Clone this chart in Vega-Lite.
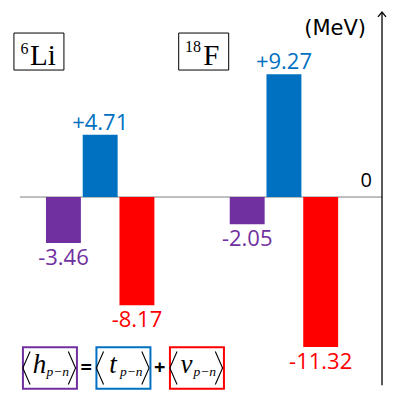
{
  "$schema": "https://vega.github.io/schema/vega-lite/v6.json",
  "width": 362,
  "height": 395,
  "autosize": {"type": "none"},
  "padding": {"left": 20, "right": 13, "top": 0, "bottom": 0},
  "background": "white",
  "config": {"view": {"stroke": null}},
  "datasets": {
    "bars": [
      {"bar": "Li h", "nucleus": "6Li", "term": "h", "value": -3.46, "label": "-3.46"},
      {"bar": "Li t", "nucleus": "6Li", "term": "t", "value": 4.71, "label": "+4.71"},
      {"bar": "Li v", "nucleus": "6Li", "term": "v", "value": -8.17, "label": "-8.17"},
      {"bar": "F h", "nucleus": "18F", "term": "h", "value": -2.05, "label": "-2.05"},
      {"bar": "F t", "nucleus": "18F", "term": "t", "value": 9.27, "label": "+9.27"},
      {"bar": "F v", "nucleus": "18F", "term": "v", "value": -11.32, "label": "-11.32"}
    ],
    "legend": [
      {"slot": "Li h", "term": "h", "letter": "h"},
      {"slot": "Li v", "term": "t", "letter": "t"},
      {"slot": "g2", "term": "v", "letter": "v"}
    ],
    "ops": [{"slot": "Li t", "op": "="}, {"slot": "g1", "op": "+"}],
    "li": [{"mass": "6", "symbol": "Li"}],
    "f": [{"mass": "18", "symbol": "F"}],
    "axis": [{"unit": "(MeV)", "zero": "0"}]
  },
  "layer": [
    {
      "data": {"name": "axis"},
      "mark": {"type": "rule", "color": "#7f7f7f", "strokeWidth": 1},
      "encoding": {
        "y": {"datum": 0, "type": "quantitative", "scale": {"domain": [-14.94, 14.87], "nice": false, "zero": false}, "axis": null}
      }
    },
    {
      "data": {"name": "bars"},
      "mark": {"type": "bar"},
      "encoding": {
        "x": {"field": "bar", "type": "ordinal", "axis": null, "scale": {"domain": ["Li h", "Li t", "Li v", "g1", "g2", "F h", "F t", "F v"], "paddingInner": 0.05, "paddingOuter": 0.95, "align": 0.372}},
        "y": {"field": "value", "type": "quantitative", "scale": {"domain": [-14.94, 14.87], "nice": false, "zero": false}, "axis": null},
        "y2": {"datum": 0},
        "color": {"field": "term", "type": "nominal", "scale": {"domain": ["h", "t", "v"], "range": ["#7030A0", "#0070C0", "#FF0000"]}, "legend": null}
      }
    },
    {
      "data": {"name": "bars"},
      "transform": [{"filter": "datum.value > 0"}],
      "mark": {"type": "text", "font": "Open Sans", "fontSize": 22, "align": "center", "baseline": "alphabetic", "dy": -5},
      "encoding": {
        "x": {"field": "bar", "type": "ordinal", "axis": null, "scale": {"domain": ["Li h", "Li t", "Li v", "g1", "g2", "F h", "F t", "F v"], "paddingInner": 0.05, "paddingOuter": 0.95, "align": 0.372}},
        "y": {"field": "value", "type": "quantitative", "scale": {"domain": [-14.94, 14.87], "nice": false, "zero": false}, "axis": null},
        "text": {"field": "label"},
        "color": {"field": "term", "type": "nominal", "scale": {"domain": ["h", "t", "v"], "range": ["#7030A0", "#0070C0", "#FF0000"]}, "legend": null}
      }
    },
    {
      "data": {"name": "bars"},
      "transform": [{"filter": "datum.value < 0"}],
      "mark": {"type": "text", "font": "Open Sans", "fontSize": 22, "align": "center", "baseline": "alphabetic", "dy": 22},
      "encoding": {
        "x": {"field": "bar", "type": "ordinal", "axis": null, "scale": {"domain": ["Li h", "Li t", "Li v", "g1", "g2", "F h", "F t", "F v"], "paddingInner": 0.05, "paddingOuter": 0.95, "align": 0.372}},
        "y": {"field": "value", "type": "quantitative", "scale": {"domain": [-14.94, 14.87], "nice": false, "zero": false}, "axis": null},
        "text": {"field": "label"},
        "color": {"field": "term", "type": "nominal", "scale": {"domain": ["h", "t", "v"], "range": ["#7030A0", "#0070C0", "#FF0000"]}, "legend": null}
      }
    },
    {
      "data": {"name": "axis"},
      "mark": {"type": "rule", "color": "black", "strokeWidth": 1.3},
      "encoding": {
        "x": {"value": {"expr": "width"}},
        "y": {"datum": 13.96, "type": "quantitative", "scale": {"domain": [-14.94, 14.87], "nice": false, "zero": false}, "axis": null},
        "y2": {"datum": -14.2}
      }
    },
    {
      "data": {"name": "axis"},
      "mark": {"type": "point", "shape": "M-1,1.2L0,0L1,1.2", "filled": false, "stroke": "black", "strokeWidth": 1.3, "size": 64, "opacity": 1},
      "encoding": {
        "x": {"value": {"expr": "width"}},
        "y": {"datum": 13.96, "type": "quantitative", "scale": {"domain": [-14.94, 14.87], "nice": false, "zero": false}, "axis": null}
      }
    },
    {
      "data": {"name": "axis"},
      "mark": {"type": "text", "font": "DejaVu Sans", "fontSize": 21, "align": "right", "baseline": "alphabetic", "dx": -16, "color": "black"},
      "encoding": {
        "x": {"value": {"expr": "width"}},
        "y": {"datum": 12.23, "type": "quantitative", "scale": {"domain": [-14.94, 14.87], "nice": false, "zero": false}, "axis": null},
        "text": {"field": "unit"}
      }
    },
    {
      "data": {"name": "axis"},
      "mark": {"type": "text", "font": "Open Sans", "fontSize": 20, "align": "right", "baseline": "alphabetic", "dx": -10, "dy": -10.3, "color": "black"},
      "encoding": {
        "x": {"value": {"expr": "width"}},
        "y": {"datum": 0, "type": "quantitative", "scale": {"domain": [-14.94, 14.87], "nice": false, "zero": false}, "axis": null},
        "text": {"field": "zero"}
      }
    },
    {
      "data": {"name": "li"},
      "mark": {"type": "point", "shape": "M-1,-0.74H1V0.74H-1Z", "size": 2500, "filled": false, "stroke": "black", "strokeWidth": 1, "opacity": 1, "xOffset": -24.5},
      "encoding": {
        "x": {"datum": "Li h", "type": "ordinal", "axis": null, "scale": {"domain": ["Li h", "Li t", "Li v", "g1", "g2", "F h", "F t", "F v"], "paddingInner": 0.05, "paddingOuter": 0.95, "align": 0.372}},
        "y": {"datum": 10.98, "type": "quantitative", "scale": {"domain": [-14.94, 14.87], "nice": false, "zero": false}, "axis": null}
      }
    },
    {
      "data": {"name": "li"},
      "mark": {"type": "text", "font": "Liberation Serif", "fontSize": 16, "align": "center", "baseline": "alphabetic", "dx": -39, "dy": 2.5, "color": "black"},
      "encoding": {
        "x": {"datum": "Li h", "type": "ordinal", "axis": null, "scale": {"domain": ["Li h", "Li t", "Li v", "g1", "g2", "F h", "F t", "F v"], "paddingInner": 0.05, "paddingOuter": 0.95, "align": 0.372}},
        "y": {"datum": 10.98, "type": "quantitative", "scale": {"domain": [-14.94, 14.87], "nice": false, "zero": false}, "axis": null},
        "text": {"field": "mass"}
      }
    },
    {
      "data": {"name": "li"},
      "mark": {"type": "text", "font": "Liberation Serif", "fontSize": 29, "align": "left", "baseline": "alphabetic", "dx": -33.5, "dy": 13.2, "color": "black"},
      "encoding": {
        "x": {"datum": "Li h", "type": "ordinal", "axis": null, "scale": {"domain": ["Li h", "Li t", "Li v", "g1", "g2", "F h", "F t", "F v"], "paddingInner": 0.05, "paddingOuter": 0.95, "align": 0.372}},
        "y": {"datum": 10.98, "type": "quantitative", "scale": {"domain": [-14.94, 14.87], "nice": false, "zero": false}, "axis": null},
        "text": {"field": "symbol"}
      }
    },
    {
      "data": {"name": "f"},
      "mark": {"type": "point", "shape": "M-1,-0.74H1V0.74H-1Z", "size": 2500, "filled": false, "stroke": "black", "strokeWidth": 1, "opacity": 1, "xOffset": -43.5},
      "encoding": {
        "x": {"datum": "F h", "type": "ordinal", "axis": null, "scale": {"domain": ["Li h", "Li t", "Li v", "g1", "g2", "F h", "F t", "F v"], "paddingInner": 0.05, "paddingOuter": 0.95, "align": 0.372}},
        "y": {"datum": 10.98, "type": "quantitative", "scale": {"domain": [-14.94, 14.87], "nice": false, "zero": false}, "axis": null}
      }
    },
    {
      "data": {"name": "f"},
      "mark": {"type": "text", "font": "Liberation Serif", "fontSize": 16, "align": "center", "baseline": "alphabetic", "dx": -54.2, "dy": 0.5, "color": "black"},
      "encoding": {
        "x": {"datum": "F h", "type": "ordinal", "axis": null, "scale": {"domain": ["Li h", "Li t", "Li v", "g1", "g2", "F h", "F t", "F v"], "paddingInner": 0.05, "paddingOuter": 0.95, "align": 0.372}},
        "y": {"datum": 10.98, "type": "quantitative", "scale": {"domain": [-14.94, 14.87], "nice": false, "zero": false}, "axis": null},
        "text": {"field": "mass"}
      }
    },
    {
      "data": {"name": "f"},
      "mark": {"type": "text", "font": "Liberation Serif", "fontSize": 29, "align": "left", "baseline": "alphabetic", "dx": -44, "dy": 13.8, "color": "black"},
      "encoding": {
        "x": {"datum": "F h", "type": "ordinal", "axis": null, "scale": {"domain": ["Li h", "Li t", "Li v", "g1", "g2", "F h", "F t", "F v"], "paddingInner": 0.05, "paddingOuter": 0.95, "align": 0.372}},
        "y": {"datum": 10.98, "type": "quantitative", "scale": {"domain": [-14.94, 14.87], "nice": false, "zero": false}, "axis": null},
        "text": {"field": "symbol"}
      }
    },
    {
      "data": {"name": "legend"},
      "mark": {"type": "point", "shape": "M-1,-0.77H1V0.77H-1Z", "size": 2916, "filled": false, "strokeWidth": 2, "opacity": 1, "xOffset": -13.5},
      "encoding": {
        "x": {"field": "slot", "type": "ordinal", "axis": null, "scale": {"domain": ["Li h", "Li t", "Li v", "g1", "g2", "F h", "F t", "F v"], "paddingInner": 0.05, "paddingOuter": 0.95, "align": 0.372}},
        "y": {"datum": -12.9, "type": "quantitative", "scale": {"domain": [-14.94, 14.87], "nice": false, "zero": false}, "axis": null},
        "stroke": {"field": "term", "type": "nominal", "scale": {"domain": ["h", "t", "v"], "range": ["#7030A0", "#0070C0", "#FF0000"]}, "legend": null}
      }
    },
    {
      "data": {"name": "legend"},
      "mark": {"type": "point", "shape": "M0.22,-1L-0.22,0L0.22,1", "size": 1089, "filled": false, "stroke": "black", "strokeWidth": 1.1, "opacity": 1, "xOffset": -37},
      "encoding": {
        "x": {"field": "slot", "type": "ordinal", "axis": null, "scale": {"domain": ["Li h", "Li t", "Li v", "g1", "g2", "F h", "F t", "F v"], "paddingInner": 0.05, "paddingOuter": 0.95, "align": 0.372}},
        "y": {"datum": -12.9, "type": "quantitative", "scale": {"domain": [-14.94, 14.87], "nice": false, "zero": false}, "axis": null}
      }
    },
    {
      "data": {"name": "legend"},
      "mark": {"type": "point", "shape": "M-0.22,-1L0.22,0L-0.22,1", "size": 1089, "filled": false, "stroke": "black", "strokeWidth": 1.1, "opacity": 1, "xOffset": 8.5},
      "encoding": {
        "x": {"field": "slot", "type": "ordinal", "axis": null, "scale": {"domain": ["Li h", "Li t", "Li v", "g1", "g2", "F h", "F t", "F v"], "paddingInner": 0.05, "paddingOuter": 0.95, "align": 0.372}},
        "y": {"datum": -12.9, "type": "quantitative", "scale": {"domain": [-14.94, 14.87], "nice": false, "zero": false}, "axis": null}
      }
    },
    {
      "data": {"name": "legend"},
      "mark": {"type": "text", "font": "Liberation Serif", "fontStyle": "italic", "fontSize": 27, "align": "center", "baseline": "alphabetic", "dx": -24, "dy": 5, "color": "black"},
      "encoding": {
        "x": {"field": "slot", "type": "ordinal", "axis": null, "scale": {"domain": ["Li h", "Li t", "Li v", "g1", "g2", "F h", "F t", "F v"], "paddingInner": 0.05, "paddingOuter": 0.95, "align": 0.372}},
        "y": {"datum": -12.9, "type": "quantitative", "scale": {"domain": [-14.94, 14.87], "nice": false, "zero": false}, "axis": null},
        "text": {"field": "letter"}
      }
    },
    {
      "data": {"name": "legend"},
      "mark": {"type": "text", "font": "Liberation Serif", "fontStyle": "italic", "fontSize": 13.5, "align": "left", "baseline": "alphabetic", "dx": -17, "dy": 8, "color": "black", "text": "p−n"},
      "encoding": {
        "x": {"field": "slot", "type": "ordinal", "axis": null, "scale": {"domain": ["Li h", "Li t", "Li v", "g1", "g2", "F h", "F t", "F v"], "paddingInner": 0.05, "paddingOuter": 0.95, "align": 0.372}},
        "y": {"datum": -12.9, "type": "quantitative", "scale": {"domain": [-14.94, 14.87], "nice": false, "zero": false}, "axis": null}
      }
    },
    {
      "data": {"name": "ops"},
      "mark": {"type": "text", "font": "Open Sans", "fontSize": 20, "fontWeight": "bold", "align": "center", "baseline": "middle", "dx": -14, "color": "black"},
      "encoding": {
        "x": {"field": "slot", "type": "ordinal", "axis": null, "scale": {"domain": ["Li h", "Li t", "Li v", "g1", "g2", "F h", "F t", "F v"], "paddingInner": 0.05, "paddingOuter": 0.95, "align": 0.372}},
        "y": {"datum": -12.9, "type": "quantitative", "scale": {"domain": [-14.94, 14.87], "nice": false, "zero": false}, "axis": null},
        "text": {"field": "op"}
      }
    }
  ]
}
